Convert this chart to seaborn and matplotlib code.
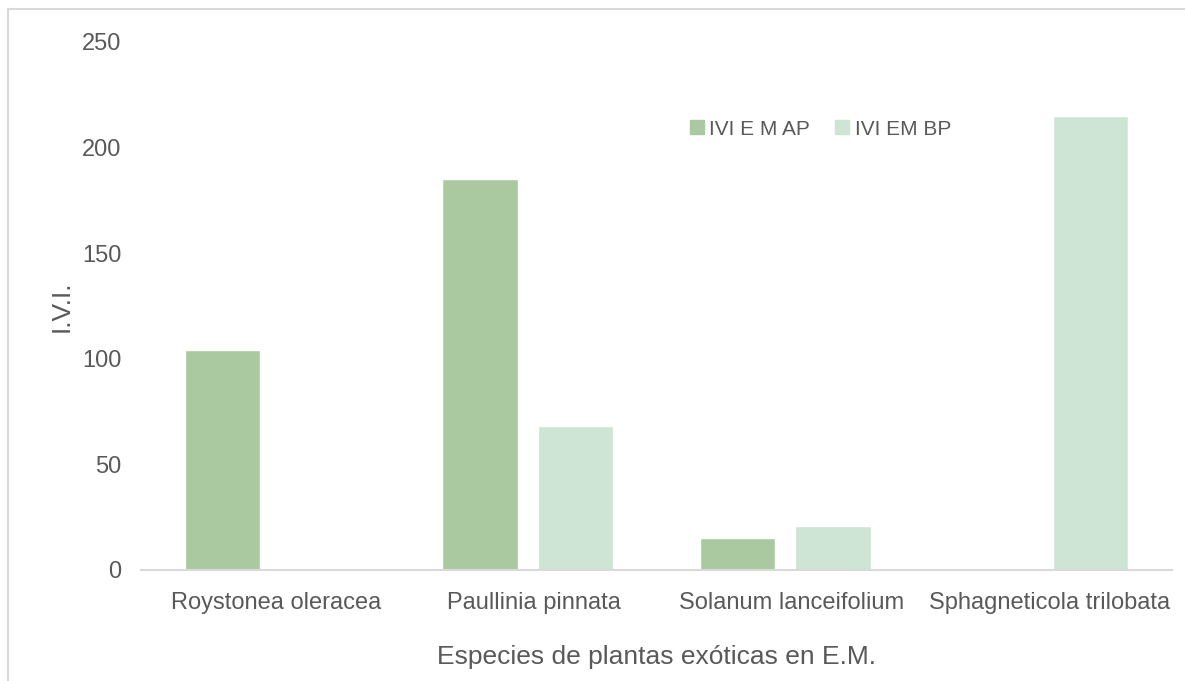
import matplotlib
matplotlib.use("Agg")
import matplotlib.pyplot as plt
from matplotlib.lines import Line2D
from matplotlib.transforms import ScaledTranslation
import seaborn as sns
import pandas as pd

# Data
species = ["Roystonea oleracea", "Paullinia pinnata", "Solanum lanceifolium", "Sphagneticola trilobata"]
ivi_ap = [104, 185, 15, 0]
ivi_bp = [0, 68, 21, 215]
series_names = ["IVI E M AP", "IVI EM BP"]
colors = ["#abc9a0", "#cee4d4"]

df = pd.DataFrame({
    "Especie": species * 2,
    "IVI": ivi_ap + ivi_bp,
    "Serie": [series_names[0]] * len(species) + [series_names[1]] * len(species),
})

sns.set_theme(style="white")
plt.rcParams["font.family"] = ["Liberation Sans", "DejaVu Sans"]

fig = plt.figure(figsize=(11.85, 6.81), dpi=100)
ax = fig.add_axes([141 / 1185, 1 - 570 / 681, 1031 / 1185, 528 / 681])

sns.barplot(data=df, x="Especie", y="IVI", hue="Serie", order=species,
            hue_order=series_names, palette=colors, width=0.74, gap=0.21,
            saturation=1, ax=ax, legend=False)

ax.set_xlim(-0.5, 3.5)
ax.set_ylim(0, 250)
ax.set_yticks([0, 50, 100, 150, 200, 250])
text_color = "#595959"
ax.tick_params(axis="both", labelsize=17, colors=text_color, length=0)
ax.tick_params(axis="y", pad=14)
ax.tick_params(axis="x", pad=16)
for side in ["top", "right", "left"]:
    ax.spines[side].set_visible(False)
ax.spines["bottom"].set_color("#d9d9d9")
ax.spines["bottom"].set_linewidth(1.5)

# nudge category labels slightly to the right
shift = ScaledTranslation(6 / 100, 0, fig.dpi_scale_trans)
for lbl in ax.get_xticklabels():
    lbl.set_transform(lbl.get_transform() + shift)

ax.set_xlabel("Especies de plantas exóticas en E.M.", fontsize=19, color=text_color, labelpad=22)
ax.set_ylabel("I.V.I.", fontsize=19, color=text_color, labelpad=6)

handles = [plt.Rectangle((0, 0), 1, 1, color=c) for c in colors]
ax.legend(handles, series_names, loc="center", bbox_to_anchor=(0.659, 0.835),
          ncol=2, frameon=False, fontsize=15, handlelength=0.68, handleheight=0.68,
          handletextpad=0.25, columnspacing=1.2, labelcolor=text_color)

# Chart area border (left and top edges)
fig.add_artist(Line2D([8 / 1185, 8 / 1185], [0, 1 - 9 / 681], transform=fig.transFigure,
                      color="#d9d9d9", linewidth=1.5))
fig.add_artist(Line2D([8 / 1185, 1], [1 - 9 / 681, 1 - 9 / 681], transform=fig.transFigure,
                      color="#d9d9d9", linewidth=1.5))

fig.savefig("out.png", dpi=100)
